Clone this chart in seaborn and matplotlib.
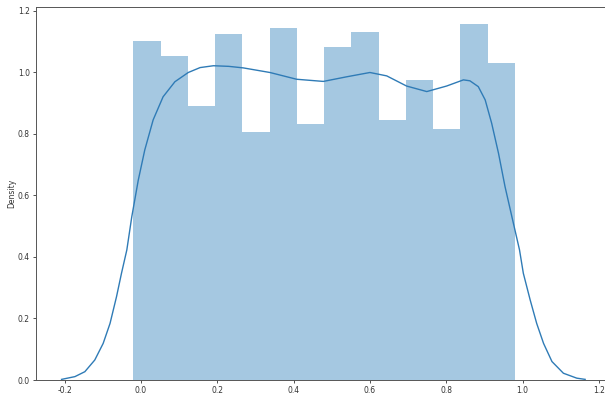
import numpy as np
import pandas as pd
import matplotlib
matplotlib.use("Agg")
import matplotlib.pyplot as plt
import seaborn as sns

# Histogram (density)
bin_edges = [-0.02, 0.0514, 0.1229, 0.1943, 0.2657, 0.3371, 0.4086, 0.48,
             0.5514, 0.6229, 0.6943, 0.7657, 0.8371, 0.9086, 0.98]
bar_heights = [1.102, 1.054, 0.891, 1.126, 0.808, 1.145, 0.831, 1.084,
               1.131, 0.844, 0.974, 0.815, 1.157, 1.031]

# KDE curve points
kde_x = [-0.208, -0.173, -0.147, -0.121, -0.099, -0.081, -0.064, -0.051, -0.037,
         -0.024, -0.007, 0.010, 0.032, 0.058, 0.089, 0.124, 0.155, 0.190,
         0.230, 0.268, 0.338, 0.408, 0.478, 0.539, 0.600, 0.644, 0.696,
         0.749, 0.801, 0.845, 0.862, 0.884, 0.902, 0.919, 0.937, 0.954,
         0.972, 0.992, 1.002, 1.020, 1.037, 1.055, 1.077, 1.107, 1.142, 1.164]
kde_y = [0.002, 0.011, 0.027, 0.065, 0.119, 0.184, 0.271, 0.347, 0.423,
         0.531, 0.650, 0.748, 0.846, 0.921, 0.970, 1.000, 1.016, 1.022,
         1.020, 1.015, 1.000, 0.978, 0.971, 0.986, 1.000, 0.989, 0.956,
         0.938, 0.956, 0.976, 0.973, 0.954, 0.911, 0.835, 0.737, 0.629,
         0.531, 0.423, 0.347, 0.260, 0.184, 0.119, 0.060, 0.022, 0.006, 0.002]

x_ticks = [-0.2, 0.0, 0.2, 0.4, 0.6, 0.8, 1.0, 1.2]
y_ticks = [0.0, 0.2, 0.4, 0.6, 0.8, 1.0, 1.2]

centers = [(a + b) / 2 for a, b in zip(bin_edges[:-1], bin_edges[1:])]
hist_df = pd.DataFrame({"x": centers, "w": bar_heights})
kde_df = pd.DataFrame({"x": kde_x, "y": kde_y})

plt.rcParams["font.family"] = ["DejaVu Sans"]
fig = plt.figure(figsize=(6.05, 3.96), dpi=100)
ax = fig.add_axes([36 / 605, 16 / 396, (605 - 36) / 605, (380 - 7) / 396])

sns.histplot(data=hist_df, x="x", weights="w", bins=bin_edges, stat="count",
             color="#1f77b4", alpha=0.4, edgecolor="none", linewidth=0, ax=ax)
line = sns.lineplot(data=kde_df, x="x", y="y", color="#2f7bb6", linewidth=1.0, ax=ax)
for ln in ax.lines:
    ln.set_solid_joinstyle("round")

ax.set_xlim(-0.275, 1.216)
ax.set_ylim(0, 1.213)
ax.set_xticks(x_ticks)
ax.set_yticks(y_ticks)
ax.set_xticklabels([f"{t:.1f}" for t in x_ticks])
ax.set_yticklabels([f"{t:.1f}" for t in y_ticks])
ax.tick_params(labelsize=5.5, length=2.5, width=0.6, colors="#333333", pad=2)
ax.set_xlabel("")
ax.set_ylabel("Density", fontsize=5.5, color="#333333", labelpad=1)
for s in ax.spines.values():
    s.set_linewidth(0.7)
    s.set_color("#555555")
ax.spines["right"].set_visible(False)

fig.savefig("out.png", dpi=100)
